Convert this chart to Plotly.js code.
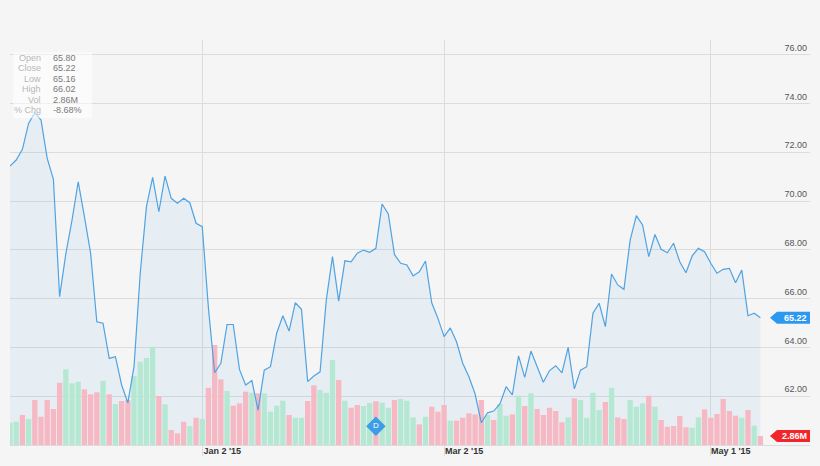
<!DOCTYPE html>
<html>
<head>
<meta charset="utf-8">
<script src="https://cdn.plot.ly/plotly-3.0.1.min.js"></script>
<style>html,body{margin:0;padding:0;background:#f5f5f5;}#chart{width:820px;height:466px;}</style>
</head>
<body>
<div id="chart"></div>
<script>
// Trading days (categories)
const dates = [
"2014-11-17","2014-11-18","2014-11-19","2014-11-20","2014-11-21","2014-11-24","2014-11-25","2014-11-26","2014-11-28",
"2014-12-01","2014-12-02","2014-12-03","2014-12-04","2014-12-05","2014-12-08","2014-12-09","2014-12-10","2014-12-11","2014-12-12",
"2014-12-15","2014-12-16","2014-12-17","2014-12-18","2014-12-19","2014-12-22","2014-12-23","2014-12-24","2014-12-26","2014-12-29","2014-12-30","2014-12-31",
"2015-01-02","2015-01-05","2015-01-06","2015-01-07","2015-01-08","2015-01-09","2015-01-12","2015-01-13","2015-01-14","2015-01-15","2015-01-16",
"2015-01-20","2015-01-21","2015-01-22","2015-01-23","2015-01-26","2015-01-27","2015-01-28","2015-01-29","2015-01-30",
"2015-02-02","2015-02-03","2015-02-04","2015-02-05","2015-02-06","2015-02-09","2015-02-10","2015-02-11","2015-02-12","2015-02-13",
"2015-02-17","2015-02-18","2015-02-19","2015-02-20","2015-02-23","2015-02-24","2015-02-25","2015-02-26","2015-02-27",
"2015-03-02","2015-03-03","2015-03-04","2015-03-05","2015-03-06","2015-03-09","2015-03-10","2015-03-11","2015-03-12","2015-03-13",
"2015-03-16","2015-03-17","2015-03-18","2015-03-19","2015-03-20","2015-03-23","2015-03-24","2015-03-25","2015-03-26","2015-03-27","2015-03-30","2015-03-31",
"2015-04-01","2015-04-02","2015-04-06","2015-04-07","2015-04-08","2015-04-09","2015-04-10","2015-04-13","2015-04-14","2015-04-15","2015-04-16","2015-04-17",
"2015-04-20","2015-04-21","2015-04-22","2015-04-23","2015-04-24","2015-04-27","2015-04-28","2015-04-29","2015-04-30",
"2015-05-01","2015-05-04","2015-05-05","2015-05-06","2015-05-07","2015-05-08","2015-05-11","2015-05-12","2015-05-13"
];

// Closing prices
const close = [
71.43,71.68,72.12,73.18,73.62,73.32,71.75,70.89,66.08,67.83,
69.22,70.79,69.36,67.86,65.05,64.99,63.55,63.62,62.46,61.73,
63.21,67.04,69.77,70.97,69.56,71.02,70.11,69.91,70.11,69.93,
69.09,68.95,65.60,62.96,63.35,64.94,64.94,63.10,62.46,62.64,
61.43,63.07,63.21,64.58,65.30,64.67,65.83,65.56,62.60,62.83,
63.00,65.94,67.72,65.90,67.55,67.51,67.86,67.99,67.90,68.06,
69.88,69.47,67.80,67.45,67.38,66.93,67.10,67.54,65.83,65.19,
64.44,64.80,64.23,63.35,62.80,62.09,60.91,61.32,61.39,61.68,
62.39,62.05,63.65,62.77,63.85,63.21,62.57,63.05,63.25,62.96,
64.00,62.30,63.07,63.21,65.40,65.81,64.85,67.01,66.56,66.38,
68.40,69.40,69.02,67.72,68.63,68.02,67.88,68.27,67.51,67.06,
67.75,68.06,67.92,67.45,67.04,67.20,67.24,66.65,67.17,65.30,
65.40,65.22
];

// Volume (millions)
const volume = [
7.09,7.41,9.54,8.27,14.31,9.00,14.31,11.45,19.81,24.07,
19.62,20.13,17.71,16.12,16.76,20.45,16.12,13.04,13.99,14.31,
21.94,26.49,27.67,31.26,15.58,12.94,4.77,3.72,7.41,6.04,
8.68,8.27,18.22,31.80,20.89,17.17,12.50,13.26,16.95,16.63,
16.44,16.44,10.59,12.50,14.09,9.54,8.68,8.68,13.99,18.98,
17.49,16.63,27.03,20.67,14.09,11.86,12.72,12.40,13.36,13.90,
13.45,11.86,14.31,14.63,14.09,8.81,6.58,9.00,12.18,10.59,
12.72,7.73,7.73,8.68,10.08,9.76,14.31,9.54,7.95,13.04,
9.32,9.76,15.68,12.40,16.44,11.45,9.54,11.86,10.81,7.22,
8.81,14.85,14.31,8.68,16.63,11.13,13.67,18.22,8.81,8.27,
14.31,12.18,13.26,15.68,12.18,7.95,5.82,6.04,9.22,5.63,
5.50,8.81,11.35,8.68,9.86,14.63,10.81,9.32,8.68,11.13,
6.14,2.86
];

// Day direction (1 = up day / green, 0 = down day / pink)
const upDay = [
1,1,0,1,0,0,0,0,0,1, 1,1,0,0,0,1,0,1,0,0,
1,1,1,1,0,1,0,0,0,1, 0,1,0,0,0,1,0,0,0,1,
0,1,1,1,1,0,1,1,0,0, 1,1,1,0,1,0,0,1,1,0,
1,1,0,1,1,1,0,1,0,0, 0,1,0,0,0,0,0,1,0,1,
1,0,1,0,1,0,0,0,0,0, 1,0,1,1,1,1,0,1,0,0,
1,1,1,0,1,0,0,0,0,0, 1,1,0,0,0,0,0,0,1,0,
1,0
];

const tickDates = ["2015-01-02","2015-03-02","2015-05-01"];
const tickText = ["Jan 2 '15","Mar 2 '15","May 1 '15"];
const priceTicks = [62,64,66,68,70,72,74,76];
const priceTickText = ["62.00","64.00","66.00","68.00","70.00","72.00","74.00","76.00"];

const infoLabels = ["Open","Close","Low","High","Vol","% Chg"];
const infoValues = ["65.80","65.22","65.16","66.02","2.86M","-8.68%"];

const dividendDate = "2015-02-12";

const GREEN = "#b5e8d3", PINK = "#f6b9c4", LINE = "#4fa3e2";
const n = close.length;
const lastClose = close[n-1], lastVol = volume[n-1];

const traces = [
  { // fill area
    x: dates, y: close, type: "scatter", mode: "lines",
    line: {width: 0, color: "rgba(0,0,0,0)"},
    fill: "tozeroy", fillcolor: "rgba(79,163,226,0.08)",
    xaxis: "x", yaxis: "y", hoverinfo: "skip"
  },
  { // volume bars
    x: dates, y: volume, type: "bar",
    marker: {color: upDay.map(u => u ? GREEN : PINK), line: {width: 0}},
    xaxis: "x", yaxis: "y2", hoverinfo: "skip"
  },
  { // dividend marker
    x: [dividendDate], y: [6.0], type: "scatter", mode: "markers+text",
    marker: {symbol: "diamond", size: 15, color: "#3d9de6"},
    text: ["D"], textposition: "middle center",
    textfont: {family: "Liberation Sans, Arial, sans-serif", size: 8, color: "#ffffff"},
    xaxis: "x", yaxis: "y2", hoverinfo: "skip", cliponaxis: false
  },
  {
    x: [dividendDate], y: [-2.3], type: "scatter", mode: "markers",
    marker: {symbol: "triangle-up", size: 4, color: "#444"},
    xaxis: "x", yaxis: "y2", hoverinfo: "skip", cliponaxis: false
  },
  { // price line
    x: dates, y: close, type: "scatter", mode: "lines",
    line: {width: 1.2, color: LINE},
    xaxis: "x", yaxis: "y3", hoverinfo: "skip"
  }
];

const font = "Liberation Sans, Arial, Helvetica, sans-serif";
const annotations = [];
const y0 = (445 - 57.7) / 405, dy = 10.5 / 405;
infoLabels.forEach((lab, k) => {
  annotations.push({xref: "paper", yref: "paper", x: 0.0416, y: y0 - k*dy, xanchor: "right", yanchor: "middle",
    text: lab, showarrow: false, font: {family: font, size: 9, color: "#b8b8b8"}});
  annotations.push({xref: "paper", yref: "paper", x: 0.0509, y: y0 - k*dy, xanchor: "left", yanchor: "middle",
    text: infoValues[k], showarrow: false, font: {family: font, size: 9, color: "#7a7a7a"}});
});
annotations.push({xref: "paper", yref: "y", x: 1, y: lastClose, xanchor: "right", yanchor: "middle", xshift: -1,
  text: "<b>" + lastClose.toFixed(2) + "</b>", showarrow: false, font: {family: font, size: 9, color: "#ffffff"}});
annotations.push({xref: "paper", yref: "y2", x: 1, y: lastVol, xanchor: "right", yanchor: "middle", xshift: -1,
  text: "<b>" + lastVol.toFixed(2) + "M</b>", showarrow: false, font: {family: font, size: 9, color: "#ffffff"}});

const tagPath = "M-40,0 L-33,6 L0,6 L0,-6 L-33,-6 Z";
const shapes = [
  {type: "rect", xref: "paper", yref: "paper", x0: 0.004, x1: 0.1025, y0: 0.807, y1: 0.970,
   fillcolor: "rgba(255,255,255,0.55)", line: {width: 0}, layer: "above"},
  {type: "path", xref: "paper", yref: "y", xsizemode: "pixel", ysizemode: "pixel", xanchor: 1, yanchor: lastClose,
   path: tagPath, fillcolor: "#2c98ee", line: {width: 0}},
  {type: "path", xref: "paper", yref: "y2", xsizemode: "pixel", ysizemode: "pixel", xanchor: 1, yanchor: lastVol,
   path: tagPath, fillcolor: "#f2262a", line: {width: 0}}
];

const layout = {
  width: 820, height: 466,
  margin: {l: 10, r: 10, t: 40, b: 21, pad: 0},
  paper_bgcolor: "#f5f5f5", plot_bgcolor: "#f5f5f5",
  showlegend: false, bargap: 0.14,
  xaxis: {
    type: "category", categoryorder: "array", categoryarray: dates,
    range: [0, 129], tickvals: tickDates, ticktext: tickText,
    showgrid: true, gridcolor: "#dcdcdc", gridwidth: 1,
    ticks: "outside", ticklen: 10, tickcolor: "#dcdcdc", tickwidth: 1,
    ticklabelshift: 20, ticklabelstandoff: -13,
    tickfont: {family: font, size: 9, color: "#333", weight: "bold"},
    showline: true, linecolor: "#dcdcdc", linewidth: 1,
    zeroline: false, fixedrange: true
  },
  yaxis: {
    side: "right", range: [60, 76.6], tickvals: priceTicks, ticktext: priceTickText,
    ticklabelposition: "inside", ticklabelshift: -7, ticks: "",
    tickfont: {family: font, size: 9, color: "#555"},
    showgrid: true, gridcolor: "#dcdcdc", gridwidth: 1, zeroline: false, showline: false
  },
  yaxis2: {overlaying: "y", range: [0, 128.8], visible: false, showgrid: false, zeroline: false},
  yaxis3: {overlaying: "y", matches: "y", visible: false, showgrid: false, zeroline: false},
  annotations: annotations,
  shapes: shapes
};

Plotly.newPlot("chart", traces, layout, {staticPlot: true, displayModeBar: false});
</script>
</body>
</html>
